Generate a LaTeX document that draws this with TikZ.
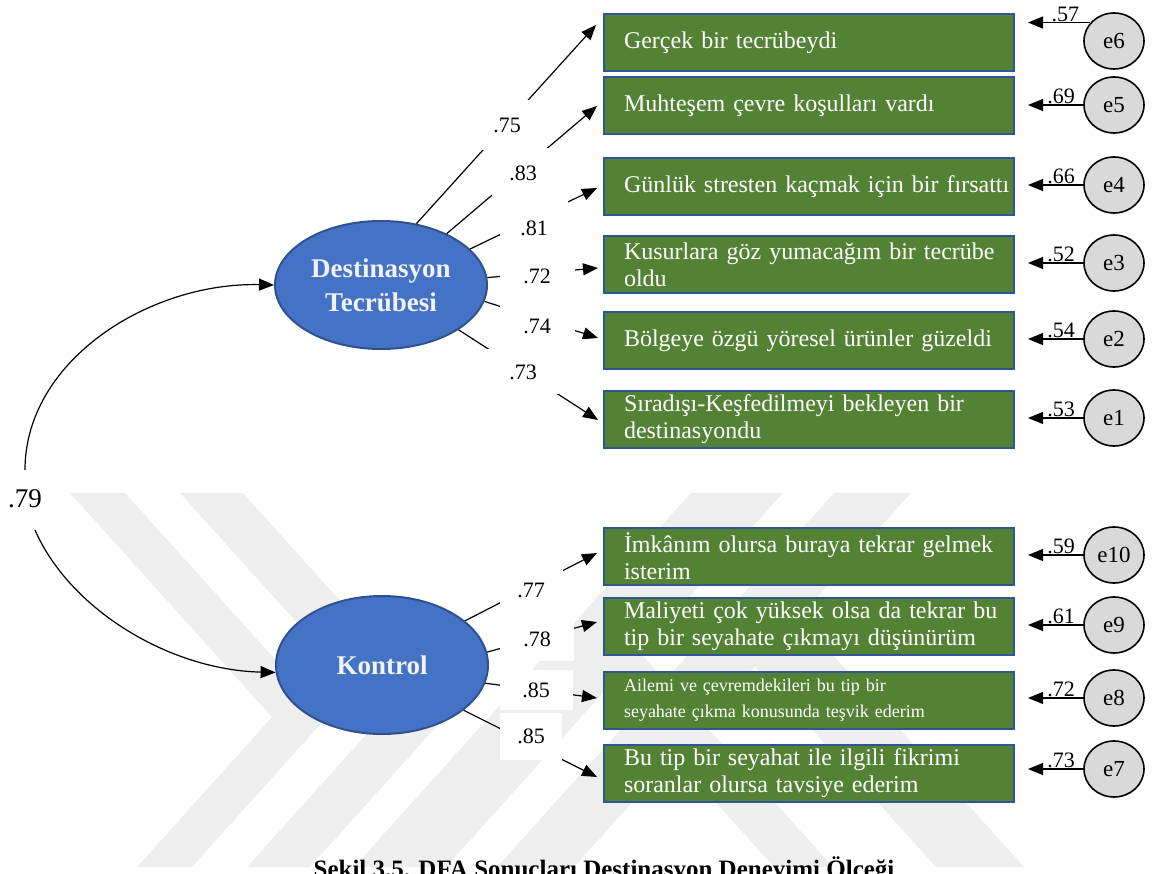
\documentclass[tikz,border=0pt]{standalone}
\usepackage{fontspec}
\setmainfont{Liberation Serif}
\usetikzlibrary{arrows.meta,shapes.geometric}
\definecolor{boxgreen}{HTML}{548235}
\definecolor{boxedge}{HTML}{2F5597}
\definecolor{latfill}{HTML}{4472C4}
\definecolor{latedge}{HTML}{2F528F}
\definecolor{errfill}{HTML}{D9D9D9}
\definecolor{lattext}{HTML}{F2F2F2}
\definecolor{wmgray}{HTML}{EEEEEE}
\newcommand{\oneline}[1]{\mbox{#1}}
\begin{document}
\begin{tikzpicture}[x=1pt,y=-1pt,
  item/.style={draw=boxedge, line width=2pt, fill=boxgreen, text=white,
    font=\fontsize{24}{27}\selectfont, align=left, anchor=north west,
    text width=370pt, inner xsep=20pt, inner ysep=0pt, minimum height=57pt},
  latent/.style={ellipse, draw=latedge, line width=2pt, fill=latfill,
    text=lattext, font=\bfseries\fontsize{27}{34}\selectfont, align=center,
    minimum width=212pt, inner sep=0pt},
  err/.style={ellipse, draw=black, line width=1.6pt, fill=errfill,
    font=\fontsize{23}{23}\selectfont, minimum width=60pt, minimum height=56pt,
    inner sep=0pt},
  lbl/.style={fill=white, inner sep=0pt, font=\fontsize{22}{22}\selectfont},
  load/.style={line width=1.2pt, -{Triangle[length=15pt,width=12pt]}},
  errarr/.style={line width=1.2pt, -{Triangle[length=15pt,width=12pt]}},
  wt/.style={above, inner sep=0.5pt, font=\fontsize{22}{22}\selectfont},
  band/.style={fill=wmgray, draw=none}
]
\useasboundingbox (0,0) rectangle (1152,874);

% faint striped emblem in the background
\begin{scope}
  \clip (0,493) rectangle (1152,867);
  \fill[band] (70,493) -- (125,493) -- (327,717) -- (192,867) -- (137,867) -- (272,717) -- cycle;
  \fill[band] (180,493) -- (243,493) -- (445,717) -- (310,867) -- (247,867) -- (382,717) -- cycle;
  \fill[band] (354,867) -- (446,867) -- (783,493) -- (691,493) -- cycle;
  \fill[band] (497,867) -- (574,867) -- (911,493) -- (834,493) -- cycle;
  \fill[band] (774,867) -- (833,867) -- (623,634) -- (564,634) -- cycle;
  \fill[band] (936,867) -- (1024,867) -- (804,623) -- (716,623) -- cycle;
\end{scope}

% latent factors
\node[latent, minimum height=128pt] (D) at (381,285) {Destinasyon\\Tecrübesi};
\node[latent, minimum height=138pt] (K) at (382,665) {Kontrol};

% observed items
\node[item] (b1) at (603,13)  {\oneline{Gerçek bir tecrübeydi}};
\node[item] (b2) at (603,76)  {\oneline{Muhteşem çevre koşulları vardı}};
\node[item] (b3) at (603,157) {\oneline{Günlük stresten kaçmak için bir fırsattı}};
\node[item] (b4) at (603,235) {\oneline{Kusurlara göz yumacağım bir tecrübe}\\\oneline{oldu}};
\node[item] (b5) at (603,311) {\oneline{Bölgeye özgü yöresel ürünler güzeldi}};
\node[item] (b6) at (603,390) {\oneline{Sıradışı-Keşfedilmeyi bekleyen bir}\\\oneline{destinasyondu}};
\node[item] (b7) at (603,527) {\oneline{İmkânım olursa buraya tekrar gelmek}\\\oneline{isterim}};
\node[item] (b8) at (603,597) {\oneline{Maliyeti çok yüksek olsa da tekrar bu}\\\oneline{tip bir seyahate çıkmayı düşünürüm}};
\node[item, font=\fontsize{18}{26}\selectfont] (b9) at (603,671) {\oneline{Ailemi ve çevremdekileri bu tip bir}\\\oneline{seyahate çıkma konusunda teşvik ederim}};
\node[item] (b10) at (603,744) {\oneline{Bu tip bir seyahat ile ilgili fikrimi}\\\oneline{soranlar olursa tavsiye ederim}};

% error terms
\node[err] (e6)  at (1114,41)  {e6};
\node[err] (e5)  at (1114,105) {e5};
\node[err] (e4)  at (1114,185) {e4};
\node[err] (e3)  at (1114,263) {e3};
\node[err] (e2)  at (1114,339) {e2};
\node[err] (e1)  at (1114,418) {e1};
\node[err] (e10) at (1114,555) {e10};
\node[err] (e9)  at (1114,625) {e9};
\node[err] (e8)  at (1114,698) {e8};
\node[err] (e7)  at (1114,769) {e7};

% arrow tips in front of the item boxes
\coordinate (p1) at (596,25);
\coordinate (p2) at (597,106);
\coordinate (p3) at (597,188);
\coordinate (p4) at (598,268);
\coordinate (p5) at (598,338);
\coordinate (p6) at (598,420);
\coordinate (p7) at (597,553);
\coordinate (p8) at (597,622);
\coordinate (p9) at (597,698);
\coordinate (p10) at (597,777);
\coordinate (tipx) at (1028,0);

% factor loadings
\draw[load] (D.60)  -- (p1);
\draw[load] (D.38)  -- (p2);
\draw[load] (D.22)  -- (p3);
\draw[load] (D.4)   -- (p4);
\draw[load] (D.-9)  -- (p5);
\draw[load] (D.-30) -- (p6);
\draw[load] (K.28)  -- (p7);
\draw[load] (K.7)   -- (p8);
\draw[load] (K.-10) -- (p9);
\draw[load] (K.-29) -- (p10);

\node[lbl, minimum width=60pt, minimum height=50pt] (l1) at (507,125) {.75};
\node[lbl, minimum width=62pt, minimum height=50pt] (l2) at (523,173) {.83};
\node[lbl, minimum width=68pt, minimum height=55pt] (l3) at (534,228) {.81};
\node[lbl, minimum width=75pt, minimum height=48pt] (l4) at (537,276) {.72};
\node[lbl, minimum width=75pt, minimum height=48pt] (l5) at (537,326) {.74};
\node[lbl, minimum width=73pt, minimum height=45pt] (l6) at (523,372) {.73};
\node[lbl, minimum width=63pt, minimum height=46pt] (l7) at (531,590) {.77};
\node[lbl, minimum width=74pt, minimum height=44pt] (l8) at (537,639) {.78};
\node[lbl, minimum width=73pt, minimum height=40pt] (l9) at (536,690) {.85};
\node[lbl, minimum width=62pt, minimum height=47pt] (l10) at (531,736) {.85};

% error paths
\draw[errarr] (e6.142) -- (e6.142 -| tipx) node[wt, pos=0.4] {.57};
\draw[errarr] (e5.west) -- (e5.west -| tipx) node[wt, pos=0.4] {.69};
\draw[errarr] (e4.west) -- (e4.west -| tipx) node[wt, pos=0.4] {.66};
\draw[errarr] (e3.west) -- (e3.west -| tipx) node[wt, pos=0.4] {.52};
\draw[errarr] (e2.west) -- (e2.west -| tipx) node[wt, pos=0.4] {.54};
\draw[errarr] (e1.west) -- (e1.west -| tipx) node[wt, pos=0.4] {.53};
\draw[errarr] (e10.west) -- (e10.west -| tipx) node[wt, pos=0.4] {.59};
\draw[errarr] (e9.west) -- (e9.west -| tipx) node[wt, pos=0.4] {.61};
\draw[errarr] (e8.west) -- (e8.west -| tipx) node[wt, pos=0.4] {.72};
\draw[errarr] (e7.west) -- (e7.west -| tipx) node[wt, pos=0.4] {.73};

% factor covariance
\node[font=\fontsize{27}{27}\selectfont, inner sep=0pt] (cov) at (25,499) {.79};
\coordinate (cu) at (25,470);
\coordinate (cl) at (35,530);
\draw[load] (cu) .. controls (25,360) and (150,282) .. (D.west);
\draw[load] (cl) .. controls (70,610) and (170,670) .. (K.184);

% caption
\node[font=\bfseries\fontsize{25}{25}\selectfont, anchor=base, inner sep=0pt] (cap) at (604,877)
  {Şekil 3.5. DFA Sonuçları Destinasyon Deneyimi Ölçeği};
\end{tikzpicture}
\end{document}
